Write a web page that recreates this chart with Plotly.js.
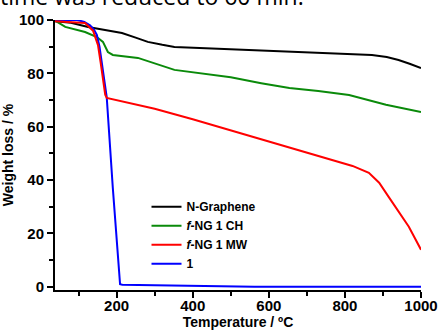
<!DOCTYPE html>
<html>
<head>
<meta charset="utf-8">
<script src="https://cdn.plot.ly/plotly-3.0.1.min.js"></script>
<style>html,body{margin:0;padding:0;background:#fff;}#chart{width:439px;height:331px;}</style>
</head>
<body>
<div id="chart"></div>
<script>
const seriesNames = ["N-Graphene", "<i>f</i>-NG 1 CH", "<i>f</i>-NG 1 MW", "1"];

const tempNG = [38, 80, 125, 170, 214, 250, 282, 320, 352, 418, 500, 600, 680, 760, 840, 871, 910, 941, 970, 1000];
const wNG    = [99.5, 99, 97.4, 96.3, 95.1, 93.4, 91.8, 90.7, 89.9, 89.5, 89, 88.4, 88, 87.6, 87.1, 86.9, 86.1, 85, 83.6, 82];

const tempCH = [38, 65, 117, 148, 164, 171, 177, 190, 256, 352, 418, 500, 580, 654, 730, 811, 908, 1000];
const wCH    = [99.8, 97.4, 95.5, 93.6, 91.8, 89.8, 88, 86.9, 85.8, 81.3, 80.1, 78.5, 76.3, 74.5, 73.4, 71.9, 68.2, 65.5];

const tempMW = [38, 80, 117, 138, 151, 158, 164, 170, 174, 200, 300, 400, 497, 600, 680, 766, 820, 863, 890, 915, 940, 968, 1000];
const wMW    = [99.5, 99.3, 98.9, 96, 90.6, 84, 76.8, 72, 70.8, 70, 66.7, 62.8, 58.8, 54.5, 51.3, 47.6, 45.3, 42.7, 39, 33.7, 28.5, 22.5, 13.9];

const temp1 = [38, 96, 115, 130, 140, 148, 155, 161, 168, 174, 190, 209, 215, 300, 400, 500, 562, 700, 1000];
const w1    = [100, 100, 99.3, 98, 96.5, 94.4, 90, 83, 77, 71, 37, 1, 0.8, 0.6, 0.3, 0.1, 0, 0, 0];

const xTicks = [200, 400, 600, 800, 1000];
const yTicks = [0, 20, 40, 60, 80, 100];

const lw = 2;
const traces = [
  {x: tempNG, y: wNG, name: seriesNames[0], mode: "lines", line: {color: "#000000", width: lw}, legendrank: 1},
  {x: tempCH, y: wCH, name: seriesNames[1], mode: "lines", line: {color: "#0a8a0a", width: lw}, legendrank: 2},
  {x: temp1, y: w1, name: seriesNames[3], mode: "lines", line: {color: "#0000ff", width: lw}, legendrank: 4},
  {x: tempMW, y: wMW, name: seriesNames[2], mode: "lines", line: {color: "#ff0000", width: lw}, legendrank: 3}
];

const ff = "Liberation Sans, Arial, sans-serif";
const tickFont = {family: ff, size: 15, color: "#000", weight: "bold"};
const titleFont = {family: ff, size: 14, color: "#000", weight: "bold"};

const layout = {
  width: 439, height: 331,
  margin: {l: 55, r: 18, t: 20, b: 41},
  paper_bgcolor: "#fff", plot_bgcolor: "#fff",
  showlegend: true,
  legend: {
    x: 0.25, y: 0.362, xanchor: "left", yanchor: "top",
    bgcolor: "rgba(0,0,0,0)",
    font: {family: ff, size: 12, color: "#000", weight: "bold"},
    tracegroupgap: 0
  },
  xaxis: {
    range: [38, 1000], tickvals: xTicks, ticktext: xTicks.map(String),
    ticks: "outside", ticklen: 6, tickwidth: 2, tickcolor: "#000",
    ticklabelstandoff: -5,
    minor: {tickvals: [100, 300, 500, 700, 900], ticks: "outside", ticklen: 4, tickwidth: 2, tickcolor: "#000", showgrid: false},
    showline: true, linewidth: 2, linecolor: "#000", showgrid: false, zeroline: false,
    tickfont: tickFont,
    title: {text: "Temperature / ºC", font: titleFont, standoff: 2}
  },
  yaxis: {
    range: [-1.2, 100], tickvals: yTicks, ticktext: yTicks.map(String),
    ticks: "outside", ticklen: 6, tickwidth: 2, tickcolor: "#000",
    minor: {tickvals: [10, 30, 50, 70, 90], ticks: "outside", ticklen: 4, tickwidth: 2, tickcolor: "#000", showgrid: false},
    showline: true, linewidth: 2, linecolor: "#000", showgrid: false, zeroline: false,
    tickfont: tickFont,
    title: {text: "Weight loss / %", font: titleFont, standoff: 4}
  },
  annotations: [{
    text: "time was reduced to 60 min.",
    xref: "paper", yref: "paper", x: -0.155, y: 1.024, xanchor: "left", yanchor: "bottom",
    showarrow: false, font: {family: "Open Sans, sans-serif", size: 23, color: "#000"}
  }]
};

Plotly.newPlot("chart", traces, layout, {displayModeBar: false, staticPlot: true});
</script>
</body>
</html>
